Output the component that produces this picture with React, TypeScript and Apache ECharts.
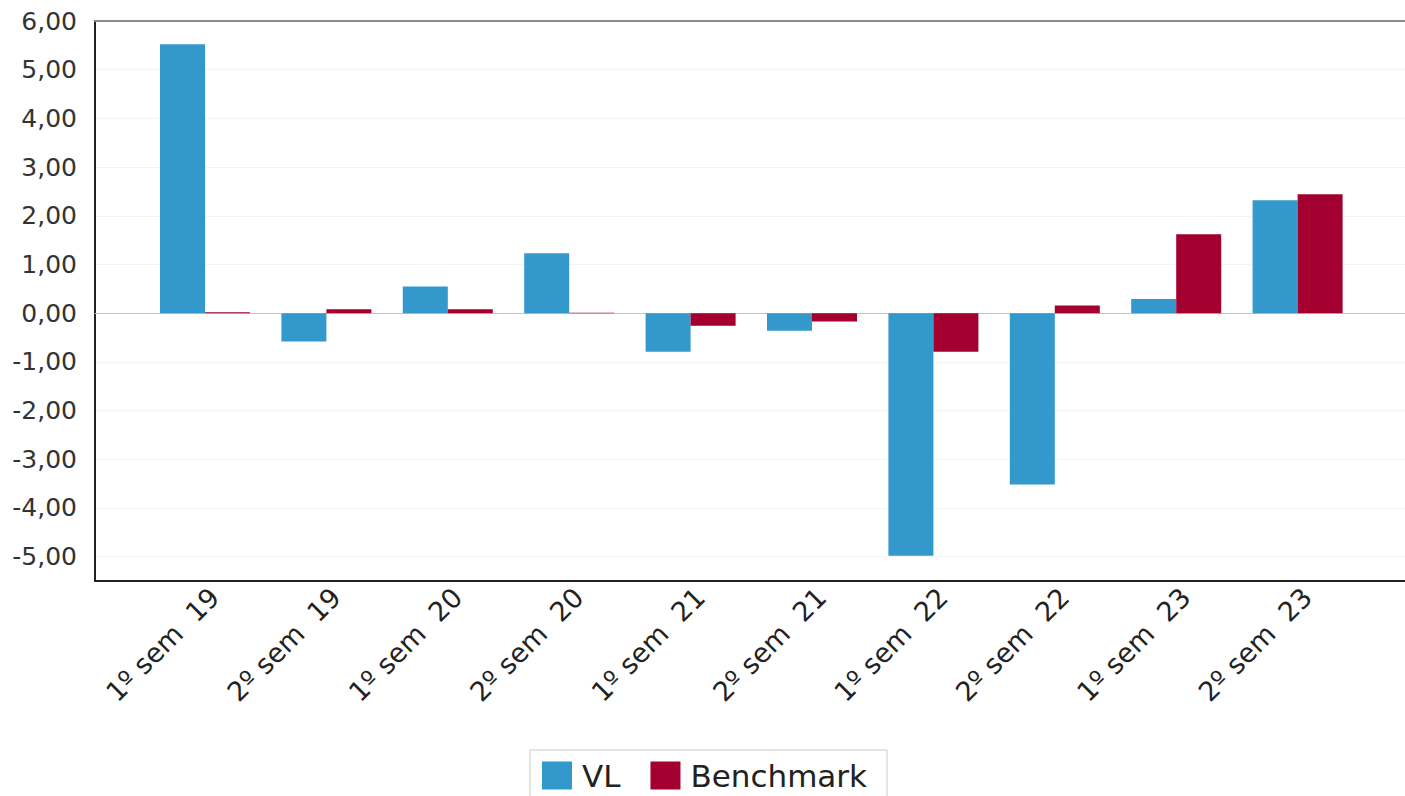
import React, { useEffect, useRef } from "react";
import * as echarts from "echarts";

const categories = [
  "1º sem  19",
  "2º sem  19",
  "1º sem  20",
  "2º sem  20",
  "1º sem  21",
  "2º sem  21",
  "1º sem  22",
  "2º sem  22",
  "1º sem  23",
  "2º sem  23",
];
const vlValues = [5.52, -0.58, 0.55, 1.23, -0.79, -0.36, -4.98, -3.52, 0.29, 2.32];
const benchmarkValues = [0.02, 0.08, 0.08, 0.01, -0.26, -0.17, -0.79, 0.16, 1.62, 2.44];
const yTicks = [-5, -4, -3, -2, -1, 0, 1, 2, 3, 4, 5, 6];
const Y_MIN = -5.5;
const Y_MAX = 6;

const FONT = "DejaVu Sans";

export default function App() {
  const ref = useRef<HTMLDivElement>(null);
  useEffect(() => {
    if (!ref.current) return;
    const chart = echarts.init(ref.current, undefined, { renderer: "svg" });
    const noAxis = {
      axisLine: { show: false },
      axisTick: { show: false },
      axisLabel: { show: false },
      splitLine: { show: false },
    };
    chart.setOption({
      animation: false,
      backgroundColor: "#ffffff",
      grid: [
        { left: 144.3, right: 46.7, top: 21, bottom: 215 },
        { left: 95, right: -60, top: 21, bottom: 215 },
      ],
      xAxis: [
        {
          gridIndex: 0,
          type: "category",
          data: categories,
          position: "bottom",
          axisLine: { show: false, onZero: false },
          axisTick: { show: false },
          splitLine: { show: false },
          axisLabel: {
            interval: 0,
            rotate: 45,
            margin: 2,
            fontSize: 27,
            fontFamily: FONT,
            color: "#222222",
            verticalAlign: "top",
          },
        },
        {
          gridIndex: 1,
          type: "category",
          data: [""],
          position: "bottom",
          ...noAxis,
          axisLine: { show: true, onZero: false, lineStyle: { color: "#222222", width: 2 } },
        },
        {
          gridIndex: 1,
          type: "category",
          data: [""],
          position: "top",
          ...noAxis,
          axisLine: { show: true, onZero: false, lineStyle: { color: "#8a8a8a", width: 2 } },
        },
        {
          gridIndex: 1,
          type: "category",
          data: [""],
          position: "bottom",
          ...noAxis,
          axisLine: { show: true, onZero: true, lineStyle: { color: "#c4c4c4", width: 1 } },
        },
      ],
      yAxis: [
        {
          gridIndex: 0,
          type: "value",
          min: Y_MIN,
          max: Y_MAX,
          show: false,
          ...noAxis,
        },
        {
          gridIndex: 1,
          type: "value",
          min: Y_MIN,
          max: Y_MAX,
          position: "left",
          axisLine: { show: true, lineStyle: { color: "#222222", width: 2 } },
          axisTick: { show: false, customValues: yTicks },
          splitLine: { show: true, lineStyle: { color: "#f3f3f3", width: 1 } },
          axisLabel: {
            customValues: yTicks,
            margin: 18,
            fontSize: 25,
            fontFamily: FONT,
            color: "#333333",
            formatter: (v: number) => v.toFixed(2).replace(".", ","),
          },
        },
      ],
      legend: {
        left: 530,
        top: 750,
        orient: "horizontal",
        icon: "rect",
        itemWidth: 30,
        itemHeight: 28,
        itemGap: 30,
        padding: [10, 20, 10, 12],
        borderColor: "#cccccc",
        borderWidth: 1,
        textStyle: { fontSize: 31, fontFamily: FONT, color: "#222222", padding: [0, 0, 0, 5] },
        data: ["VL", "Benchmark"],
      },
      series: [
        {
          name: "VL",
          type: "bar",
          xAxisIndex: 0,
          yAxisIndex: 0,
          data: vlValues,
          barWidth: 45,
          barGap: "0%",
          itemStyle: { color: "#3399CC" },
        },
        {
          name: "Benchmark",
          type: "bar",
          xAxisIndex: 0,
          yAxisIndex: 0,
          data: benchmarkValues,
          barWidth: 45,
          barGap: "0%",
          itemStyle: { color: "#A3002F" },
        },
      ],
    });
    return () => chart.dispose();
  }, []);
  return (
    <div
      ref={ref}
      style={{ position: "absolute", left: 0, top: 0, width: 1405, height: 796, overflow: "hidden" }}
    />
  );
}
